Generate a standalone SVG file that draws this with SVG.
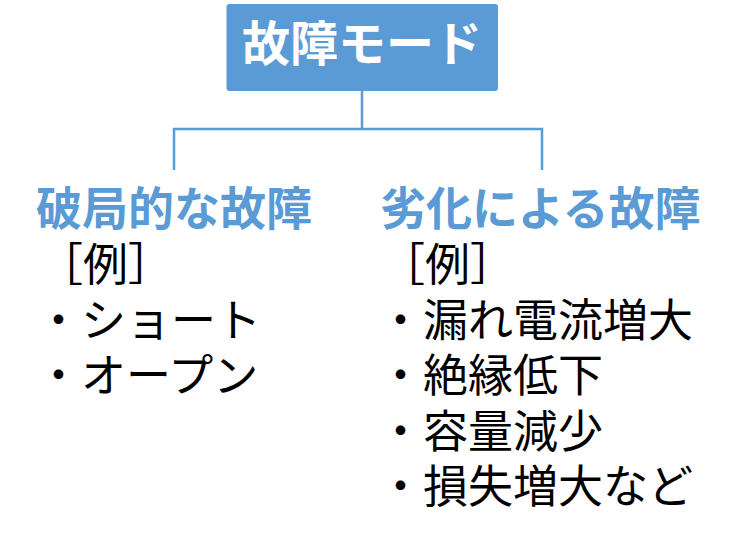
<svg xmlns="http://www.w3.org/2000/svg" width="737" height="550" viewBox="0 0 737 550">
<style>
.hd{font-family:"Liberation Sans","Noto Sans CJK JP","Noto Sans CJK SC",sans-serif;font-weight:bold;font-size:46px;fill:#5B9BD5}
.bd{font-family:"Liberation Sans","Noto Sans CJK JP","Noto Sans CJK SC",sans-serif;font-size:45px;fill:#000}
.ttl{font-family:"Liberation Sans","Noto Sans CJK JP","Noto Sans CJK SC",sans-serif;font-weight:bold;font-size:48px;fill:#fff}
.ln{stroke:#5B9BD5;stroke-width:2.5;fill:none}
</style>
<rect width="737" height="550" fill="#fff"/>
<g id="connectors">
<path class="ln" d="M362,91 V129 M174,170 V129 H542 V170"/>
</g>
<g id="root">
<rect x="226.5" y="4" width="271.5" height="87" rx="3" fill="#5B9BD5"/>
<text class="ttl" x="362" y="61" text-anchor="middle">故障モード</text>
</g>
<g id="left">
<text class="hd" x="36" y="225">破局的な故障</text>
<text class="bd" x="38" y="281">［例］</text>
<text class="bd" x="36" y="337">・ショート</text>
<text class="bd" x="36" y="392">・オープン</text>
</g>
<g id="right">
<text class="hd" x="380" y="225">劣化による故障</text>
<text class="bd" x="380" y="281">［例］</text>
<text class="bd" x="378" y="337">・漏れ電流増大</text>
<text class="bd" x="378" y="392">・絶縁低下</text>
<text class="bd" x="378" y="448">・容量減少</text>
<text class="bd" x="378" y="503">・損失増大など</text>
</g>
</svg>
